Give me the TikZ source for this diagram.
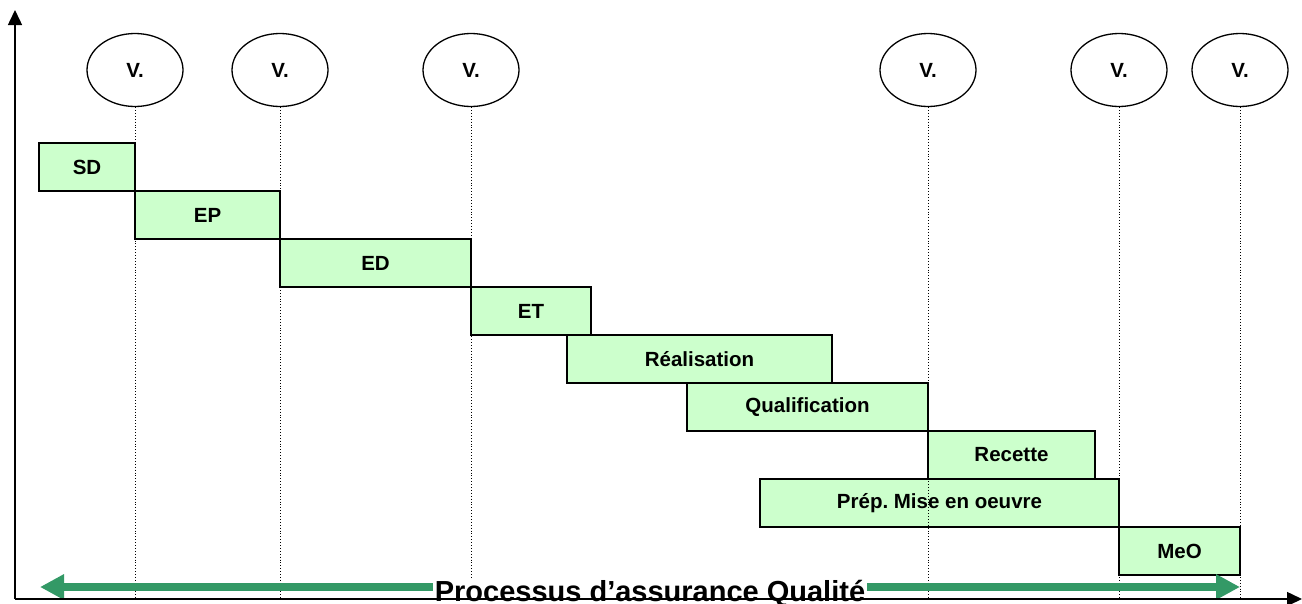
\documentclass[tikz,border=0pt]{standalone}
\usepackage{fontspec}
\setmainfont{Liberation Sans}
\usetikzlibrary{arrows.meta,shapes.geometric}
\definecolor{barfill}{HTML}{CCFFCC}
\definecolor{qgreen}{HTML}{339966}
\begin{document}
\frenchspacing
\begin{tikzpicture}[x=1pt,y=-1pt,
  bar/.style={draw=black, line width=1.2pt, fill=barfill, minimum height=48pt, inner sep=0pt,
    font=\fontsize{20.5}{23}\selectfont\bfseries},
  vnode/.style={draw=black, line width=1.3pt, ellipse, minimum width=96pt, minimum height=73pt, inner sep=0pt,
    font=\fontsize{20.5}{23}\selectfont\bfseries},
  vline/.style={dotted, line width=0.9pt},
  axis/.style={line width=1.5pt, -{Triangle[length=15pt,width=14pt]}},
  garrow/.style={qgreen, line width=8pt, {Triangle[length=24pt,width=24pt]}-{Triangle[length=24pt,width=24pt]}},
  titlenode/.style={fill=white, inner xsep=2pt, inner ysep=2pt, font=\fontsize{29}{32}\selectfont\bfseries}]
\useasboundingbox (0,0) rectangle (1302,603);
\coordinate (o) at (15,599);
\coordinate (ytop) at (15,10);
\coordinate (xend) at (1302,599);
\coordinate (gl) at (40,587);
\coordinate (gr) at (1240,587);
% bars
\node[bar, minimum width=96pt] (sd) at (87,167) {SD};
\node[bar, minimum width=145pt] (ep) at (207.5,215) {EP};
\node[bar, minimum width=191pt] (ed) at (375.5,263) {ED};
\node[bar, minimum width=120pt] (et) at (531,311) {ET};
\node[bar, minimum width=265pt] (rea) at (699.5,359) {Réalisation};
\node[bar, minimum width=241pt] (qua) at (807.5,407) {Qualification};
\node[bar, minimum width=167pt] (rec) at (1011.5,455) {Recette};
\node[bar, minimum width=359pt] (prep) at (939.5,503) {Prép. Mise en oeuvre};
\node[bar, minimum width=121pt] (meo) at (1179.5,551) {MeO};
% validation ellipses
\node[vnode] (v1) at (135,70) {V.};
\node[vnode] (v2) at (280,70) {V.};
\node[vnode] (v3) at (471,70) {V.};
\node[vnode] (v4) at (928,70) {V.};
\node[vnode] (v5) at (1119,70) {V.};
\node[vnode] (v6) at (1240,70) {V.};
\foreach \v in {v1,v2,v3,v4,v5,v6}{
  \draw[vline] (\v.south) -- (\v.south |- o);
}
% quality process arrow
\draw[garrow] (gl) -- (gr);
\node[titlenode] (title) at (650,594) {Processus d’assurance Qualité};
% axes
\draw[axis] (o) -- (ytop);
\draw[axis] (o) -- (xend);
\end{tikzpicture}
\end{document}
